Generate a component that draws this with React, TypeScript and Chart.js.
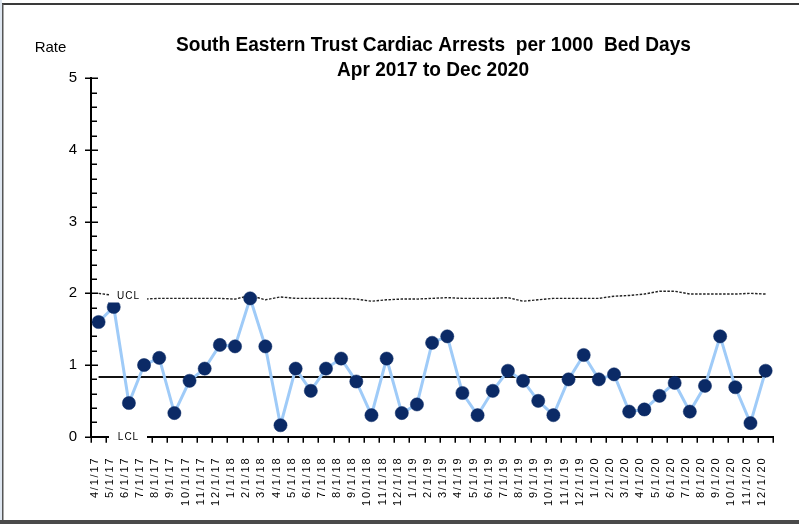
import React, { useEffect, useRef } from "react";
import { Chart, registerables } from "chart.js";

Chart.register(...registerables);

const titleLines = ["South Eastern Trust Cardiac Arrests  per 1000  Bed Days", "Apr 2017 to Dec 2020"];
const yAxisTitle = "Rate";

const monthLabels = [
  "4/1/17", "5/1/17", "6/1/17", "7/1/17", "8/1/17", "9/1/17", "10/1/17", "11/1/17", "12/1/17",
  "1/1/18", "2/1/18", "3/1/18", "4/1/18", "5/1/18", "6/1/18", "7/1/18", "8/1/18", "9/1/18", "10/1/18", "11/1/18", "12/1/18",
  "1/1/19", "2/1/19", "3/1/19", "4/1/19", "5/1/19", "6/1/19", "7/1/19", "8/1/19", "9/1/19", "10/1/19", "11/1/19", "12/1/19",
  "1/1/20", "2/1/20", "3/1/20", "4/1/20", "5/1/20", "6/1/20", "7/1/20", "8/1/20", "9/1/20", "10/1/20", "11/1/20", "12/1/20",
];

const rateValues = [
  1.60, 1.81, 0.47, 1.00, 1.10, 0.33, 0.78, 0.95, 1.28, 1.26,
  1.93, 1.26, 0.16, 0.95, 0.64, 0.95, 1.09, 0.77, 0.30, 1.09,
  0.33, 0.45, 1.31, 1.40, 0.61, 0.30, 0.64, 0.92, 0.78, 0.50,
  0.30, 0.80, 1.14, 0.80, 0.87, 0.35, 0.38, 0.57, 0.75, 0.35,
  0.71, 1.40, 0.69, 0.19, 0.92,
];

const uclValues = [
  2.00, 1.97, 1.93, 1.92, 1.93, 1.93, 1.93, 1.93, 1.93, 1.92,
  1.97, 1.91, 1.95, 1.93, 1.93, 1.93, 1.93, 1.92, 1.89, 1.91,
  1.92, 1.92, 1.93, 1.94, 1.93, 1.93, 1.93, 1.94, 1.89, 1.91,
  1.93, 1.93, 1.93, 1.93, 1.96, 1.97, 1.99, 2.03, 2.03, 1.99,
  1.99, 1.99, 1.99, 2.00, 1.99,
];

const centreLine = 0.833;
const lclValue = 0;

const yTickValues = [0, 1, 2, 3, 4, 5];

const FONT = "'Liberation Sans', Arial, sans-serif";

const decorPlugin = {
  id: "spcDecor",
  beforeDraw(chart: any) {
    const ctx = chart.ctx as CanvasRenderingContext2D;
    ctx.save();
    ctx.fillStyle = "#ffffff";
    ctx.fillRect(0, 0, chart.width, chart.height);
    ctx.fillStyle = "#dfe7f1";
    ctx.fillRect(0, 0, 2, chart.height);
    ctx.strokeStyle = "#3a3a3a";
    ctx.lineWidth = 2;
    ctx.beginPath();
    ctx.moveTo(2, 4);
    ctx.lineTo(chart.width, 4);
    ctx.stroke();
    ctx.lineWidth = 1.5;
    ctx.strokeStyle = "#555";
    ctx.beginPath();
    ctx.moveTo(2.75, 4);
    ctx.lineTo(2.75, chart.height - 3);
    ctx.stroke();
    ctx.fillStyle = "#4a4a4a";
    ctx.fillRect(0, chart.height - 4, chart.width, 4);
    ctx.restore();
  },
  beforeDatasetsDraw(chart: any) {
    const ctx = chart.ctx as CanvasRenderingContext2D;
    const { chartArea, scales } = chart;
    const x = scales.x;
    const y = scales.y;
    ctx.save();
    ctx.strokeStyle = "#000";
    ctx.lineWidth = 1.5;
    const ax = chartArea.left;
    for (let k = 0; k <= 25; k++) {
      const val = k / 5;
      const py = Math.round(y.getPixelForValue(val)) + 0.25;
      const major = k % 5 === 0;
      ctx.beginPath();
      ctx.moveTo(major ? ax - 6 : ax, py);
      ctx.lineTo(ax + (major ? 7 : 6), py);
      ctx.stroke();
    }
    const n = monthLabels.length;
    for (let i = 0; i <= n; i++) {
      const px = Math.round(x.getPixelForValue(i - 0.5)) + 0.25;
      ctx.beginPath();
      ctx.moveTo(px, chartArea.bottom);
      ctx.lineTo(px, chartArea.bottom + 6);
      ctx.stroke();
    }
    ctx.restore();
  },
  afterDatasetsDraw(chart: any) {
    const ctx = chart.ctx as CanvasRenderingContext2D;
    const { chartArea, scales } = chart;
    const y = scales.y;
    ctx.save();
    // control limit labels
    const lx = chartArea.left + 37;
    const labelBox = (text: string, cy: number) => {
      ctx.fillStyle = "#fff";
      ctx.fillRect(lx - 19, cy - 7, 38, 14);
      ctx.fillStyle = "#000";
      ctx.font = `10px ${FONT}`;
      (ctx as any).letterSpacing = "1px";
      ctx.textAlign = "center";
      ctx.textBaseline = "middle";
      ctx.fillText(text, lx + 0.5, cy + 0.5);
      (ctx as any).letterSpacing = "0px";
    };
    labelBox("UCL", y.getPixelForValue(uclValues[1]));
    labelBox("LCL", y.getPixelForValue(lclValue));

    // title (condensed horizontally to mimic a narrow bold face)
    ctx.fillStyle = "#000";
    ctx.textAlign = "center";
    ctx.textBaseline = "middle";
    ctx.font = `bold 21px ${FONT}`;
    const drawNarrow = (text: string, cx: number, cy: number, targetW: number) => {
      const w = ctx.measureText(text).width;
      const s = Math.min(1, targetW / w);
      ctx.save();
      ctx.translate(cx, cy);
      ctx.scale(s, 1);
      ctx.fillText(text, 0, 0);
      ctx.restore();
    };
    drawNarrow(titleLines[0], 433.5, 45, 515);
    drawNarrow(titleLines[1], 433, 70, 192);

    // y axis title
    ctx.font = `15px ${FONT}`;
    ctx.fillText(yAxisTitle, 50.5, 48);
    ctx.restore();
    // spacing for the x tick labels drawn afterwards (ticks z = 1)
    (ctx as any).letterSpacing = "1.8px";
  },
  afterDraw(chart: any) {
    (chart.ctx as any).letterSpacing = "0px";
  },
};

export default function App() {
  const ref = useRef<HTMLCanvasElement>(null);
  useEffect(() => {
    if (!ref.current) return;
    const chart = new Chart(ref.current, {
      type: "line",
      data: {
        labels: monthLabels,
        datasets: [
          {
            label: "Rate",
            data: rateValues,
            borderColor: "#9fcbf8",
            borderWidth: 3,
            pointRadius: 6.6,
            pointBackgroundColor: "#0b2a66",
            pointBorderColor: "#0b2a66",
            pointBorderWidth: 0.5,
            tension: 0,
          },
          {
            label: "Mean",
            data: monthLabels.map(() => centreLine),
            borderColor: "#111",
            borderWidth: 2,
            pointRadius: 0,
          },
          {
            label: "UCL",
            data: uclValues,
            borderColor: "#222",
            borderWidth: 1.4,
            borderDash: [2.5, 1.5],
            pointRadius: 0,
          },
        ],
      },
      options: {
        responsive: false,
        animation: false,
        devicePixelRatio: 1,
        layout: { padding: { top: 78.3, right: 15.3, left: 0, bottom: 0 } },
        plugins: {
          legend: { display: false },
          title: { display: false },
          tooltip: { enabled: false },
        },
        scales: {
          x: {
            type: "category",
            offset: true,
            grid: { display: false, drawTicks: false, offset: true },
            border: { display: true, color: "#000", width: 2 },
            ticks: {
              autoSkip: false,
              minRotation: 90,
              maxRotation: 90,
              padding: 20,
              labelOffset: -4,
              color: "#000",
              font: { family: FONT, size: 11 },
              z: 1,
            },
            afterFit: (s: any) => {
              s.height = 87.3;
            },
          },
          y: {
            min: 0,
            max: 5,
            afterBuildTicks: (s: any) => {
              s.ticks = yTickValues.map((v) => ({ value: v }));
            },
            ticks: {
              padding: 14,
              color: "#000",
              font: { family: FONT, size: 15 },
            },
            grid: { display: false, drawTicks: false },
            border: { display: true, color: "#000", width: 2 },
            afterFit: (s: any) => {
              s.width = 91;
            },
          },
        },
      },
      plugins: [decorPlugin],
    });
    return () => chart.destroy();
  }, []);
  return (
    <div style={{ position: "absolute", left: 0, top: 0, width: 799, height: 524 }}>
      <canvas ref={ref} width={799} height={524} style={{ display: "block", width: 799, height: 524 }} />
    </div>
  );
}
